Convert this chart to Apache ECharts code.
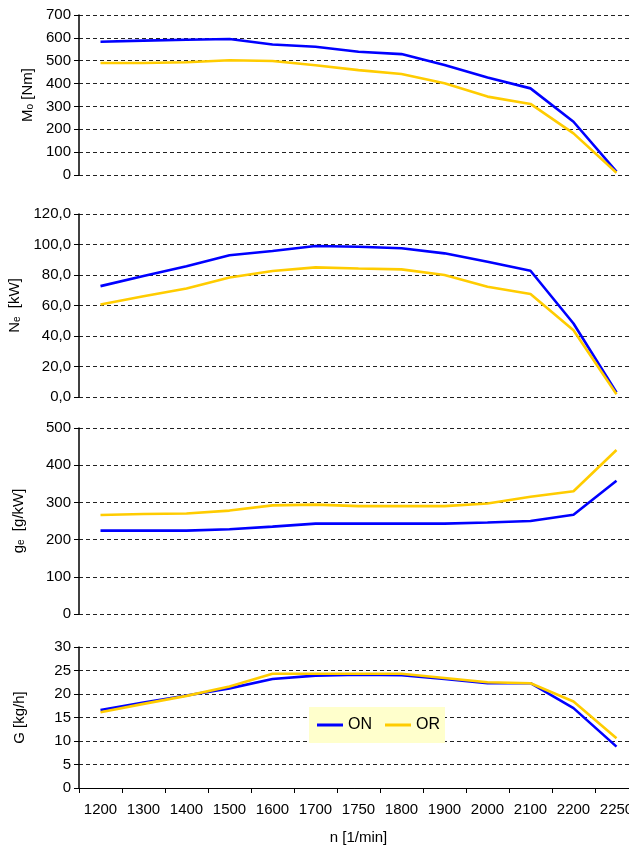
<!DOCTYPE html>
<html>
<head>
<meta charset="utf-8">
<script src="https://cdn.jsdelivr.net/npm/echarts@6/dist/echarts.min.js"></script>
<style>
html,body{margin:0;padding:0;background:#fff;}
#chart{width:629px;height:845px;}
</style>
</head>
<body>
<div id="chart"></div>
<script>
const categories = ['1200','1300','1400','1500','1600','1700','1750','1800','1900','2000','2100','2200','2250'];
const torqueON = [583,588,592,595,571,561,539,529,481,427,379,233,15];
const torqueOR = [490,490,493,502,499,480,459,442,401,343,311,182,10];
const powerON = [72.7,79.3,85.8,93.0,95.7,99.0,98.5,97.5,94.2,88.7,82.8,48.2,3];
const powerOR = [60.7,66.1,71.2,78.4,82.6,85.0,84.3,83.7,80.0,72.3,67.5,43.8,1.8];
const sfcON = [224,224,224,228,235,243,243,243,243,246,250,267,358];
const sfcOR = [266,269,270,278,292,294,290,290,290,297,315,330,441];
const fuelON = [16.6,18.2,19.7,21.2,23.2,23.9,24.1,24.0,23.2,22.3,22.3,17.0,8.8];
const fuelOR = [16.1,17.9,19.6,21.6,24.3,24.3,24.3,24.3,23.4,22.5,22.3,18.4,10.6];
const seriesNames = ['ON','OR'];
const seriesColors = ['#0000FF','#FFCC00'];

const FONT = 'Liberation Sans, Arial, sans-serif';
const grids = [
  {left:79, width:559, top:15, height:160, outerBoundsMode:'none', containLabel:false},
  {left:79, width:559, top:214, height:183, outerBoundsMode:'none', containLabel:false},
  {left:79, width:559, top:428, height:186, outerBoundsMode:'none', containLabel:false},
  {left:79, width:559, top:647, height:141, outerBoundsMode:'none', containLabel:false}
];
const yDefs = [
  {min:0,max:700,interval:100,name:'{a|M}{s|o}{a| [Nm]}',gap:41,fmt:v=>String(v)},
  {min:0,max:120,interval:20,name:'{a|N}{s|e}{a|  [kW]}',gap:56,fmt:v=>v.toFixed(1).replace('.',',')},
  {min:0,max:500,interval:100,name:'{a|g}{s|e}{a|  [g/kW]}',gap:53,fmt:v=>String(v)},
  {min:0,max:30,interval:5,name:'{a|G [kg/h]}',gap:52,fmt:v=>String(v)}
];
const data = [[torqueON,torqueOR],[powerON,powerOR],[sfcON,sfcOR],[fuelON,fuelOR]];

const xAxes = grids.map((g,i)=>({
  type:'category', gridIndex:i, data:categories, boundaryGap:true,
  show: i===3,
  axisLine:{show:i===3, onZero:false, lineStyle:{color:'#000',width:1}},
  axisTick:{show:i===3, length:5, inside:false, alignWithLabel:false, lineStyle:{color:'#000'}},
  axisLabel:{show:i===3, margin:14, fontSize:15, color:'#000', fontFamily:FONT, interval:0, hideOverlap:false},
  splitLine:{show:false},
  name: i===3 ? 'n [1/min]' : '',
  nameLocation:'middle', nameGap:42,
  nameTextStyle:{fontSize:15,color:'#000',fontFamily:FONT}
}));
const yAxes = yDefs.map((d,i)=>({
  type:'value', gridIndex:i, min:d.min, max:d.max, interval:d.interval,
  axisLine:{show:true, lineStyle:{color:'#000',width:1.5}},
  axisTick:{show:true, length:5, lineStyle:{color:'#000'}},
  axisLabel:{margin:8, fontSize:15, color:'#000', fontFamily:FONT, formatter:d.fmt},
  splitLine:{show:true, lineStyle:{color:'#222', width:1, type:[4,3]}},
  name:d.name, nameLocation:'middle', nameGap:d.gap,
  nameTextStyle:{
    color:'#000', fontFamily:FONT,
    rich:{
      a:{fontSize:15,color:'#000',fontFamily:FONT,verticalAlign:'bottom',lineHeight:17},
      s:{fontSize:10,color:'#000',fontFamily:FONT,verticalAlign:'bottom',lineHeight:17}
    }
  }
}));
const series = [];
data.forEach((pair,i)=>{
  pair.forEach((arr,k)=>{
    series.push({
      type:'line', name:seriesNames[k], xAxisIndex:i, yAxisIndex:i,
      data:arr, symbol:'none', showSymbol:false, animation:false,
      lineStyle:{color:seriesColors[k], width:2.6},
      itemStyle:{color:seriesColors[k]},
      z: 2+k
    });
  });
});

const chart = echarts.init(document.getElementById('chart'), null, {renderer:'canvas'});
chart.setOption({
  animation:false,
  backgroundColor:'#fff',
  grid:grids,
  xAxis:xAxes,
  yAxis:yAxes,
  legend:{
    data:seriesNames, left:309, top:707,
    padding:[10,5,10,8], itemGap:13, itemWidth:26, itemHeight:3,
    icon:'rect', backgroundColor:'#FFFFCC',
    textStyle:{fontSize:16, color:'#000', fontFamily:FONT}
  },
  series:series
});
</script>
</body>
</html>
